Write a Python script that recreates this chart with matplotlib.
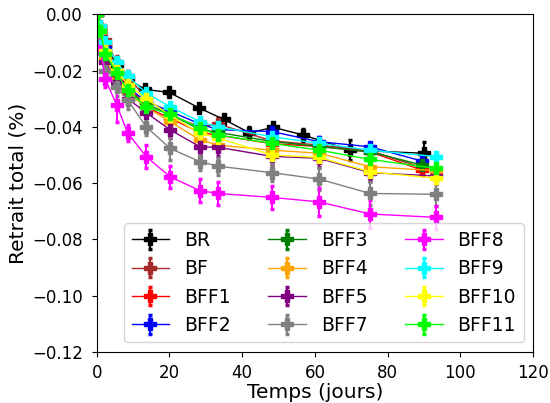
import numpy as np
import matplotlib
matplotlib.use('Agg')
import matplotlib.pyplot as plt

# temps (jours)
t_BR = [0, 1, 2.3, 5.5, 8.5, 13.3, 20, 28, 35, 42, 48.6, 56.8, 69.7, 90]
t_A = [0, 1, 2.3, 5.5, 8.5, 13.6, 20.2, 28.4, 33.4, 48.2, 61.2, 75.2, 89.5]
t_B = [0, 1, 2.3, 5.5, 8.5, 13.6, 20.2, 28.4, 33.4, 48.2, 61.2, 75.2, 93.4]

# retrait total (%)
BR = [0, -0.005, -0.011, -0.018, -0.023, -0.0267, -0.0278, -0.0332, -0.0374, -0.0421, -0.0402, -0.0429, -0.0483, -0.0494]
BF = [0, -0.004, -0.009, -0.017, -0.022, -0.030, -0.036, -0.040, -0.039, -0.045, -0.0465, -0.0485, -0.0545]
BFF1 = [0, -0.005, -0.011, -0.020, -0.025, -0.033, -0.037, -0.042, -0.043, -0.046, -0.047, -0.0489, -0.0554]
BFF2 = [0, -0.006, -0.012, -0.021, -0.026, -0.031, -0.0345, -0.039, -0.041, -0.0417, -0.0453, -0.0471, -0.0522]
BFF3 = [0, -0.005, -0.013, -0.022, -0.027, -0.032, -0.0355, -0.041, -0.042, -0.0452, -0.047, -0.0489, -0.0536]
BFF4 = [0, -0.007, -0.016, -0.023, -0.028, -0.033, -0.0382, -0.0447, -0.0465, -0.0483, -0.0494, -0.0542, -0.0556]
BFF5 = [0, -0.008, -0.017, -0.024, -0.030, -0.035, -0.0411, -0.0471, -0.0473, -0.0505, -0.0512, -0.0563, -0.0575]
BFF7 = [0, -0.010, -0.020, -0.026, -0.0305, -0.040, -0.0477, -0.0524, -0.054, -0.0563, -0.0586, -0.0637, -0.064]
BFF8 = [0, -0.012, -0.023, -0.0323, -0.0422, -0.0506, -0.0578, -0.0627, -0.0637, -0.0651, -0.0667, -0.071, -0.0722]
BFF9 = [0, -0.004, -0.010, -0.017, -0.022, -0.028, -0.0329, -0.0382, -0.040, -0.0435, -0.0459, -0.0483, -0.0506]
BFF10 = [0, -0.006, -0.013, -0.020, -0.025, -0.030, -0.036, -0.0423, -0.044, -0.050, -0.0509, -0.056, -0.0583]
BFF11 = [0, -0.006, -0.014, -0.021, -0.027, -0.033, -0.0355, -0.0405, -0.0429, -0.0459, -0.0483, -0.0516, -0.0548]

# ecarts-types
e_BR = [0, 0.001, 0.001, 0.001, 0.001, 0.001, 0.0012, 0.0012, 0.0012, 0.002, 0.0015, 0.002, 0.0035, 0.004]
e_BF = [0, 0.001, 0.003, 0.002, 0.002, 0.002, 0.002, 0.002, 0.002, 0.002, 0.002, 0.002, 0.002]
e_BFF1 = [0, 0.001, 0.002, 0.0015, 0.0015, 0.0015, 0.0015, 0.0015, 0.0015, 0.0015, 0.0015, 0.0015, 0.0015]
e_BFF2 = [0, 0.001, 0.0015, 0.0015, 0.0015, 0.0015, 0.0015, 0.0015, 0.0015, 0.0015, 0.0015, 0.0015, 0.0015]
e_BFF3 = [0, 0.001, 0.0015, 0.0015, 0.0015, 0.0015, 0.0015, 0.0015, 0.0015, 0.0015, 0.0015, 0.0015, 0.0015]
e_BFF4 = [0, 0.001, 0.002, 0.002, 0.002, 0.002, 0.002, 0.002, 0.002, 0.002, 0.002, 0.002, 0.002]
e_BFF5 = [0, 0.001, 0.002, 0.002, 0.002, 0.002, 0.003, 0.003, 0.003, 0.003, 0.003, 0.003, 0.003]
e_BFF7 = [0, 0.001, 0.002, 0.003, 0.003, 0.003, 0.004, 0.003, 0.003, 0.003, 0.004, 0.004, 0.004]
e_BFF8 = [0, 0.002, 0.003, 0.006, 0.003, 0.004, 0.004, 0.004, 0.004, 0.004, 0.005, 0.005, 0.004]
e_BFF9 = [0, 0.001, 0.0015, 0.0015, 0.0015, 0.0015, 0.0015, 0.0015, 0.0015, 0.0015, 0.0015, 0.0015, 0.0015]
e_BFF10 = [0, 0.001, 0.0015, 0.0015, 0.0015, 0.0015, 0.0015, 0.0015, 0.0015, 0.0015, 0.0015, 0.0015, 0.0015]
e_BFF11 = [0, 0.001, 0.0015, 0.0015, 0.0015, 0.0015, 0.0015, 0.0015, 0.0015, 0.0015, 0.0015, 0.0015, 0.0015]

series = [
    ('BR', t_BR, BR, e_BR, 'black'),
    ('BF', t_A, BF, e_BF, 'brown'),
    ('BFF1', t_A, BFF1, e_BFF1, 'red'),
    ('BFF2', t_A, BFF2, e_BFF2, 'blue'),
    ('BFF3', t_A, BFF3, e_BFF3, 'green'),
    ('BFF4', t_B, BFF4, e_BFF4, 'orange'),
    ('BFF5', t_B, BFF5, e_BFF5, 'purple'),
    ('BFF7', t_B, BFF7, e_BFF7, 'gray'),
    ('BFF8', t_B, BFF8, e_BFF8, 'magenta'),
    ('BFF9', t_B, BFF9, e_BFF9, 'cyan'),
    ('BFF10', t_B, BFF10, e_BFF10, 'yellow'),
    ('BFF11', t_B, BFF11, e_BFF11, 'lime'),
]

fig = plt.figure(figsize=(5.5, 4.03), dpi=100)
ax = fig.add_axes([0.176, 0.127, 0.793, 0.8375])

for name, t, y, e, c in series:
    ax.errorbar(t, y, yerr=e, fmt='P-', color=c, label=name,
                markersize=9, lw=1, elinewidth=1.5, capsize=1.5, capthick=2.5)

ax.set_xlim(0, 120)
ax.set_ylim(-0.12, 0)
ax.tick_params(axis='y', labelsize=12, pad=6.5)
ax.tick_params(axis='x', labelsize=12, pad=5)
ax.set_xlabel('Temps (jours)', fontsize=14.5, labelpad=1)
ax.set_ylabel('Retrait total (%)', fontsize=14.5, labelpad=3)
ax.legend(ncol=3, loc='lower right', fontsize=13.5, borderaxespad=0.5)

fig.savefig('out.png', dpi=100)
